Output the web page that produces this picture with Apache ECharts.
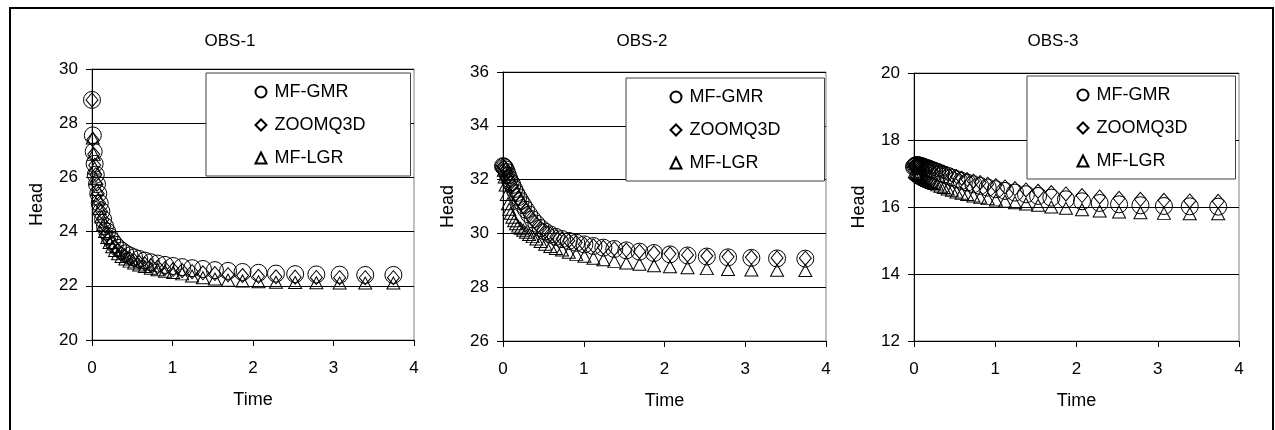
<!DOCTYPE html>
<html>
<head>
<meta charset="utf-8">
<title>OBS Head</title>
<script src="https://cdn.jsdelivr.net/npm/echarts@6/dist/echarts.min.js"></script>
<style>
  html, body { margin: 0; padding: 0; background: #fff; }
  #chart { width: 1275px; height: 430px; }
</style>
</head>
<body>
<div id="chart"></div>
<script>
// 时间 (每步乘 1.1)
const times = [0, 0.010, 0.021, 0.033, 0.047, 0.062, 0.078, 0.096, 0.116, 0.138,
    0.162, 0.189, 0.218, 0.250, 0.285, 0.324, 0.367, 0.414, 0.466, 0.523,
    0.586, 0.655, 0.731, 0.815, 0.907, 1.008, 1.120, 1.243, 1.378, 1.527,
    1.690, 1.870, 2.068, 2.285, 2.524, 2.787, 3.076, 3.394, 3.744];

const seriesNames = ['MF-GMR', 'ZOOMQ3D', 'MF-LGR'];
const panelTitles = ['OBS-1', 'OBS-2', 'OBS-3'];
const xTicks = [0, 1, 2, 3, 4];
const yTicks1 = [20, 22, 24, 26, 28, 30];
const yTicks2 = [26, 28, 30, 32, 34, 36];
const yTicks3 = [12, 14, 16, 18, 20];

// OBS-1
const obs1Gmr = [28.86, 27.55, 26.95, 26.5, 26.1, 25.75, 25.4, 25.05, 24.75, 24.45,
    24.2, 24.0, 23.82, 23.66, 23.52, 23.4, 23.3, 23.2, 23.12, 23.05,
    22.99, 22.93, 22.87, 22.82, 22.77, 22.73, 22.69, 22.65, 22.62, 22.58,
    22.55, 22.51, 22.48, 22.45, 22.43, 22.42, 22.41, 22.40, 22.40];
const obs1Zoom = [28.86, 27.4, 26.85, 26.45, 26.1, 25.75, 25.4, 25.05, 24.75, 24.45,
    24.2, 23.95, 23.75, 23.57, 23.42, 23.3, 23.19, 23.09, 23.0, 22.93,
    22.86, 22.8, 22.74, 22.69, 22.64, 22.6, 22.56, 22.52, 22.48, 22.45,
    22.41, 22.38, 22.35, 22.33, 22.32, 22.31, 22.30, 22.30, 22.30];
const obs1Lgr = [null, 27.45, 26.85, 26.35, 25.95, 25.55, 25.2, 24.85, 24.55, 24.25,
    24.0, 23.78, 23.6, 23.44, 23.3, 23.18, 23.08, 22.99, 22.91, 22.84,
    22.77, 22.71, 22.65, 22.59, 22.54, 22.49, 22.44, 22.36, 22.3, 22.25,
    22.21, 22.18, 22.15, 22.13, 22.12, 22.11, 22.10, 22.10, 22.10];

// OBS-2
const obs2Gmr = [32.5, 32.48, 32.45, 32.38, 32.28, 32.15, 32.02, 31.9, 31.8, 31.65,
    31.5, 31.35, 31.2, 31.05, 30.88, 30.7, 30.52, 30.36, 30.2, 30.07,
    29.96, 29.87, 29.79, 29.72, 29.65, 29.59, 29.53, 29.47, 29.42, 29.37,
    29.32, 29.27, 29.22, 29.18, 29.14, 29.11, 29.09, 29.07, 29.06];
const obs2Zoom = [32.5, 32.47, 32.43, 32.36, 32.26, 32.13, 32.0, 31.87, 31.76, 31.61,
    31.46, 31.31, 31.16, 31.01, 30.85, 30.68, 30.5, 30.35, 30.2, 30.08,
    29.97, 29.88, 29.8, 29.73, 29.66, 29.6, 29.54, 29.48, 29.43, 29.38,
    29.33, 29.28, 29.24, 29.2, 29.16, 29.13, 29.11, 29.09, 29.08];
const obs2Lgr = [null, 32.35, 32.1, 31.8, 31.45, 31.1, 30.9, 30.75, 30.6, 30.47,
    30.36, 30.27, 30.19, 30.12, 30.04, 29.96, 29.88, 29.79, 29.7, 29.6,
    29.51, 29.44, 29.38, 29.3, 29.22, 29.15, 29.08, 29.02, 28.96, 28.9,
    28.85, 28.8, 28.76, 28.72, 28.69, 28.66, 28.64, 28.63, 28.62];

// OBS-3
const obs3Gmr = [17.2, 17.22, 17.24, 17.25, 17.25, 17.24, 17.23, 17.22, 17.2, 17.18,
    17.16, 17.14, 17.11, 17.08, 17.05, 17.01, 16.97, 16.93, 16.88, 16.83,
    16.78, 16.73, 16.68, 16.63, 16.58, 16.53, 16.48, 16.43, 16.38, 16.33,
    16.28, 16.23, 16.17, 16.12, 16.08, 16.05, 16.03, 16.02, 16.01];
const obs3Zoom = [17.22, 17.24, 17.26, 17.27, 17.27, 17.27, 17.26, 17.25, 17.24, 17.22,
    17.2, 17.18, 17.16, 17.13, 17.1, 17.07, 17.03, 16.99, 16.95, 16.91,
    16.86, 16.82, 16.77, 16.73, 16.68, 16.64, 16.6, 16.55, 16.51, 16.47,
    16.43, 16.39, 16.34, 16.3, 16.26, 16.23, 16.2, 16.18, 16.17];
const obs3Lgr = [null, 17.05, 17.02, 17.0, 16.97, 16.94, 16.91, 16.88, 16.85, 16.82,
    16.79, 16.76, 16.73, 16.7, 16.66, 16.62, 16.58, 16.54, 16.5, 16.45,
    16.41, 16.37, 16.33, 16.29, 16.25, 16.21, 16.17, 16.13, 16.09, 16.05,
    16.0, 15.96, 15.92, 15.88, 15.85, 15.83, 15.81, 15.8, 15.8];

const panelData = [
    [obs1Gmr, obs1Zoom, obs1Lgr],
    [obs2Gmr, obs2Zoom, obs2Lgr],
    [obs3Gmr, obs3Zoom, obs3Lgr]
];
const panelYTicks = [yTicks1, yTicks2, yTicks3];

// 布局
const grids = [
    { left: 92, top: 69, width: 322, height: 271 },
    { left: 503, top: 72, width: 323, height: 269 },
    { left: 914, top: 73, width: 325, height: 268 }
];
const titleX = [230, 642, 1053];
const legendBoxes = [
    { left: 206, top: 73, padding: [10, 45, 9, 47] },
    { left: 626, top: 78, padding: [10, 44, 9, 42] },
    { left: 1027, top: 76, padding: [10, 48, 9, 48] }
];
const symbols = [
    { symbol: 'circle', size: 17 },
    { symbol: 'diamond', size: [12, 14] },
    { symbol: 'triangle', size: [13, 12] }
];

const FONT = 'Liberation Sans, Arial, sans-serif';

function toPoints(vals) {
    return times.map((t, i) => vals[i] == null ? null : [t, vals[i]]).filter(p => p);
}

const option = {
    animation: false,
    backgroundColor: '#fff',
    title: [],
    legend: [],
    grid: [],
    xAxis: [],
    yAxis: [],
    series: [],
    graphic: [{
        type: 'rect',
        shape: { x: 10, y: 8, width: 1263, height: 440 },
        style: { fill: 'none', stroke: '#000', lineWidth: 2 },
        silent: true
    }]
};

panelTitles.forEach((name, p) => {
    const yt = panelYTicks[p];
    option.title.push({
        text: name,
        left: titleX[p],
        top: 33,
        padding: 0,
        textAlign: 'center',
        textStyle: { fontFamily: FONT, fontSize: 17, fontWeight: 'normal', color: '#000' }
    });
    option.grid.push(Object.assign({
        show: true, borderColor: '#808080', borderWidth: 1, backgroundColor: '#fff'
    }, grids[p]));
    option.xAxis.push({
        type: 'value',
        gridIndex: p,
        min: xTicks[0],
        max: xTicks[xTicks.length - 1],
        interval: 1,
        name: 'Time',
        nameLocation: 'middle',
        nameGap: 51,
        nameTextStyle: { fontFamily: FONT, fontSize: 18, color: '#000' },
        axisLine: { onZero: false, lineStyle: { color: '#000', width: 1 } },
        axisTick: { show: true, inside: false, length: 6, lineStyle: { color: '#000' } },
        axisLabel: { margin: 20, fontFamily: FONT, fontSize: 17, color: '#000' },
        splitLine: { show: false }
    });
    option.yAxis.push({
        type: 'value',
        gridIndex: p,
        min: yt[0],
        max: yt[yt.length - 1],
        interval: yt[1] - yt[0],
        name: 'Head',
        nameLocation: 'middle',
        nameGap: 46,
        nameRotate: 90,
        nameTextStyle: { fontFamily: FONT, fontSize: 18, color: '#000' },
        axisLine: { onZero: false, lineStyle: { color: '#000', width: 1 } },
        axisTick: { show: true, inside: false, length: 6, lineStyle: { color: '#000' } },
        axisLabel: { margin: 14, fontFamily: FONT, fontSize: 17, color: '#000' },
        splitLine: { show: true, lineStyle: { color: '#000', width: 1 } }
    });
    seriesNames.forEach((sName, s) => {
        option.series.push({
            type: 'scatter',
            name: sName,
            xAxisIndex: p,
            yAxisIndex: p,
            symbol: symbols[s].symbol,
            symbolSize: symbols[s].size,
            silent: true,
            itemStyle: { color: 'none', borderColor: '#000', borderWidth: 1, opacity: 1 },
            emphasis: { disabled: true },
            data: toPoints(panelData[p][s]),
            z: 3
        });
    });
    option.legend.push({
        orient: 'vertical',
        left: legendBoxes[p].left,
        top: legendBoxes[p].top,
        padding: legendBoxes[p].padding,
        backgroundColor: '#fff',
        borderColor: '#404040',
        borderWidth: 1,
        borderRadius: 0,
        itemWidth: 11,
        itemHeight: 11,
        itemGap: 15,
        selectedMode: false,
        data: seriesNames,
        z: 10,
        textStyle: { fontFamily: FONT, fontSize: 18, lineHeight: 18, color: '#000', padding: [0, 0, 0, 3] }
    });
});

const chart = echarts.init(document.getElementById('chart'), null, { renderer: 'canvas' });
chart.setOption(option);
</script>
</body>
</html>
